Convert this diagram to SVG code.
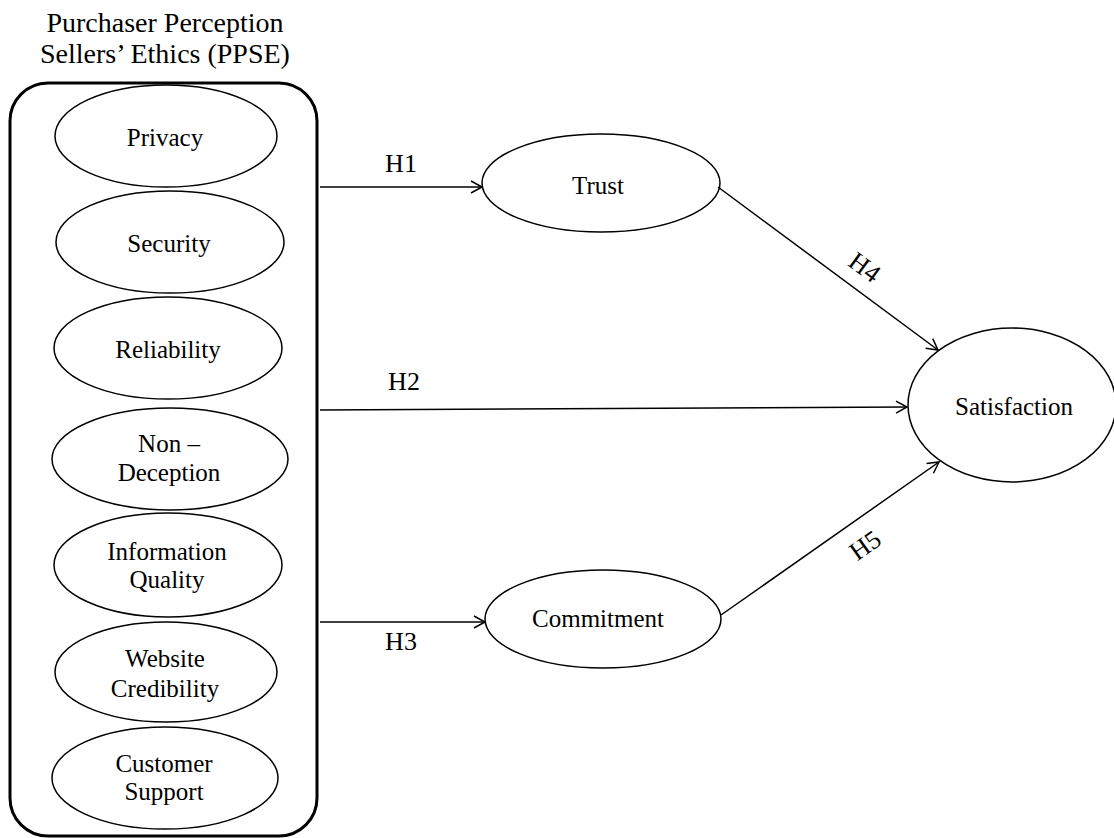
<svg xmlns="http://www.w3.org/2000/svg" width="1114" height="838" viewBox="0 0 1114 838" font-family="'Liberation Serif', 'Times New Roman', 'DejaVu Serif', serif">
  <defs>
    <marker id="arrow" markerUnits="userSpaceOnUse" markerWidth="14" markerHeight="14" refX="12" refY="7" orient="auto">
      <path d="M1,1 L12,7 L1,13" fill="none" stroke="#000" stroke-width="1.5"/>
    </marker>
    <style>
      text { font-family: "Liberation Serif", "Times New Roman", "DejaVu Serif", serif; fill: #000; }
      .node ellipse { fill: #fff; stroke: #000; stroke-width: 1.5; }
      .label { font-size: 25px; text-anchor: middle; }
      .title { font-size: 28px; text-anchor: middle; }
      .hyp { font-size: 26px; text-anchor: middle; }
      .edge { fill: none; stroke: #000; stroke-width: 1.5; marker-end: url(#arrow); }
    </style>
  </defs>
  <rect width="1114" height="838" fill="#fff"/>

  <!-- PPSE construct with its seven dimensions -->
  <g id="ppse">
    <text class="title" x="165" y="32">Purchaser Perception</text>
    <text class="title" x="165" y="63">Sellers’ Ethics (PPSE)</text>
    <rect x="10" y="83" width="307" height="753" rx="38" ry="38" fill="none" stroke="#000" stroke-width="3"/>
  </g>
  <g id="privacy" class="node">
    <ellipse cx="166" cy="136" rx="111" ry="51"/>
    <text class="label" x="165" y="146">Privacy</text>
  </g>
  <g id="security" class="node">
    <ellipse cx="170" cy="242" rx="114" ry="51"/>
    <text class="label" x="169" y="252">Security</text>
  </g>
  <g id="reliability" class="node">
    <ellipse cx="168" cy="348" rx="114" ry="51"/>
    <text class="label" x="168" y="358">Reliability</text>
  </g>
  <g id="non-deception" class="node">
    <ellipse cx="170" cy="459" rx="118" ry="51"/>
    <text class="label" x="169" y="452">Non –</text>
    <text class="label" x="169" y="481">Deception</text>
  </g>
  <g id="information-quality" class="node">
    <ellipse cx="168" cy="565" rx="114" ry="52"/>
    <text class="label" x="167" y="560">Information</text>
    <text class="label" x="167" y="588">Quality</text>
  </g>
  <g id="website-credibility" class="node">
    <ellipse cx="166" cy="672" rx="111" ry="50"/>
    <text class="label" x="165" y="667">Website</text>
    <text class="label" x="165" y="697">Credibility</text>
  </g>
  <g id="customer-support" class="node">
    <ellipse cx="165" cy="778" rx="113" ry="51"/>
    <text class="label" x="164" y="772">Customer</text>
    <text class="label" x="164" y="800">Support</text>
  </g>

  <!-- mediators and outcome -->
  <g id="trust" class="node">
    <ellipse cx="601" cy="183" rx="119" ry="49"/>
    <text class="label" x="598" y="194">Trust</text>
  </g>
  <g id="commitment" class="node">
    <ellipse cx="603" cy="619" rx="118" ry="49"/>
    <text class="label" x="598" y="627">Commitment</text>
  </g>
  <g id="satisfaction" class="node">
    <ellipse cx="1012" cy="405" rx="104" ry="77"/>
    <text class="label" x="1014" y="415">Satisfaction</text>
  </g>

  <!-- hypothesised paths -->
  <g id="connectors">
    <line class="edge" x1="320" y1="187" x2="482" y2="187"/>
    <line class="edge" x1="320" y1="410" x2="907" y2="407"/>
    <line class="edge" x1="320" y1="622" x2="485" y2="622"/>
    <line class="edge" x1="718" y1="187" x2="938" y2="350"/>
    <line class="edge" x1="721" y1="615" x2="939" y2="462"/>
    <text class="hyp" x="401" y="172">H1</text>
    <text class="hyp" x="404" y="390">H2</text>
    <text class="hyp" x="401" y="650">H3</text>
    <text class="hyp" transform="translate(865,267) rotate(36.5)" x="0" y="9">H4</text>
    <text class="hyp" transform="translate(865,545) rotate(-35.5)" x="0" y="9">H5</text>
  </g>
</svg>
